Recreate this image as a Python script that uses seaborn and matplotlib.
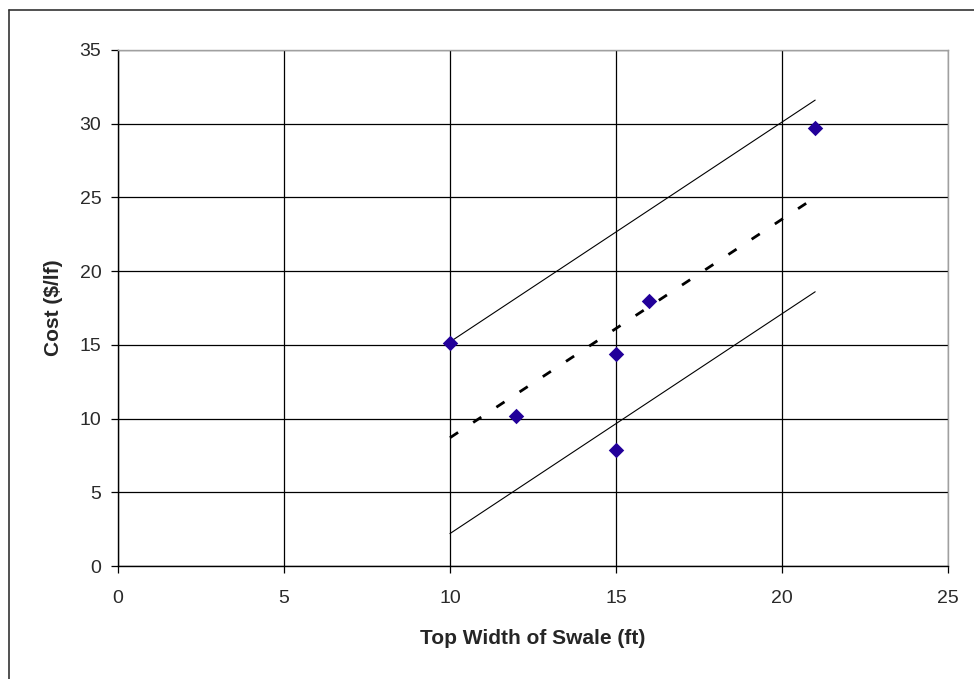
import numpy as np
import pandas as pd
import matplotlib.pyplot as plt
import seaborn as sb
from matplotlib.lines import Line2D

# observed swale costs
width_ft = [10, 12, 15, 15, 16, 21]
cost_lf = [15.1, 10.2, 14.4, 7.9, 18.0, 29.7]

# trend line and bounds, read at the ends x=10 and x=21
line_x = [10, 21]
trend_y = [8.7, 25.0]
upper_y = [15.2, 31.6]
lower_y = [2.2, 18.6]

sb.set_style("white")
plt.rcParams['font.family'] = ['Liberation Sans', 'DejaVu Sans']

fig = plt.figure(figsize=(9.74, 6.79), dpi=100)
ax = fig.add_axes([0.1211, 0.1664, 0.8522, 0.76])

pts = pd.DataFrame({'x': width_ft, 'y': cost_lf})
bounds = pd.DataFrame({'x': line_x, 'trend': trend_y, 'upper': upper_y, 'lower': lower_y})

#bounds first, then the dashed trend, points on top
sb.lineplot(data=bounds, x='x', y='upper', color='black', linewidth=0.8, ax=ax)
sb.lineplot(data=bounds, x='x', y='lower', color='black', linewidth=0.8, ax=ax)
sb.lineplot(data=bounds, x='x', y='trend', color='black', linewidth=2.0,
            dashes=False, ax=ax).lines[-1].set_dashes([3.5, 6.5])
sb.scatterplot(data=pts, x='x', y='y', marker='D', s=62, color='#22009a',
               edgecolor='#22009a', linewidth=0, zorder=5, ax=ax)

ax.set_xlim(0, 25)
ax.set_ylim(0, 35)
ax.set_xticks(np.arange(0, 26, 5))
ax.set_yticks(np.arange(0, 36, 5))
ax.grid(True, color='black', linewidth=0.9)
ax.set_axisbelow(True)

for s in ['top', 'right']:
    ax.spines[s].set_color('#a0a0a0')
    ax.spines[s].set_linewidth(1.0)
for s in ['bottom', 'left']:
    ax.spines[s].set_color('black')
    ax.spines[s].set_linewidth(1.0)

ax.tick_params(axis='both', direction='out', length=5, width=0.9, color='black',
               labelsize=14, colors='#2a2a2a', left=True, bottom=True)
ax.tick_params(axis='x', pad=12)
ax.tick_params(axis='y', pad=7)
ax.set_xlabel('Top Width of Swale (ft)', fontsize=15, fontweight='bold', labelpad=16)
ax.set_ylabel('Cost ($/lf)', fontsize=15, fontweight='bold', labelpad=12)

# outer chart frame (only left and top edges visible)
fig.add_artist(Line2D([9/974, 9/974], [0, 1 - 10/679], transform=fig.transFigure,
                      color='#333333', linewidth=1.2))
fig.add_artist(Line2D([9/974, 1], [1 - 10/679, 1 - 10/679], transform=fig.transFigure,
                      color='#333333', linewidth=1.2))

plt.savefig('out.png', dpi=100)
